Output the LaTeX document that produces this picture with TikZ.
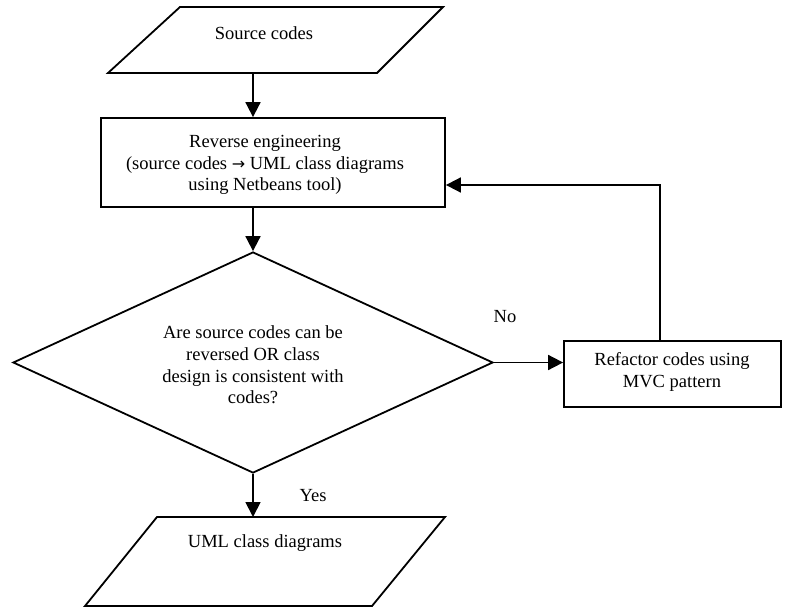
\documentclass[tikz,border=0pt]{standalone}
\usepackage{fontspec}
\setmainfont{Liberation Serif}
\newfontfamily\symfont{DejaVu Sans}
\usetikzlibrary{arrows.meta,shapes.geometric}
\begin{document}
\begin{tikzpicture}[x=1pt,y=-1pt,
  line width=1.8pt,
  every node/.style={font=\fontsize{18.5}{21.8}\selectfont},
  shapeline/.style={draw=black,line width=1.8pt,line join=miter},
  txt/.style={align=center,inner sep=0pt},
  arr/.style={-{Triangle[length=15pt,width=15pt]},line width=1.8pt}]
\useasboundingbox[fill=white] (0,0) rectangle (786,607);
% input parallelogram
\coordinate (s1) at (180,7);
\coordinate (s2) at (443,7);
\coordinate (s3) at (377,73);
\coordinate (s4) at (108,73);
\draw[shapeline] (s1) -- (s2) -- (s3) -- (s4) -- cycle;
\node[txt] (srctxt) at (264,33) {Source codes};
\coordinate (srcb) at (253,73);
% reverse engineering box
\node[shapeline,rectangle,minimum width=344pt,minimum height=89pt,inner sep=0pt] (rev) at (273,162.5) {};
\node[txt] (revtxt) at (265,165) {Reverse engineering\\(source codes {\symfont\fontsize{16}{21.8}\selectfont→} UML class diagrams\\using Netbeans tool)};
% decision diamond
\node[shapeline,diamond,minimum width=480pt,minimum height=221pt,inner sep=0pt] (dec) at (253,362.5) {};
\node[txt] (dectxt) at (253,365) {Are source codes can be\\reversed OR class\\design is consistent with\\codes?};
% refactor box
\node[shapeline,rectangle,minimum width=217pt,minimum height=66pt,inner sep=0pt] (ref) at (672.5,374) {};
\node[txt] (reftxt) at (672,372) {Refactor codes using\\MVC pattern};
% output parallelogram
\coordinate (u1) at (157,517);
\coordinate (u2) at (445,517);
\coordinate (u3) at (372,606);
\coordinate (u4) at (85,606);
\draw[shapeline] (u1) -- (u2) -- (u3) -- (u4) -- cycle;
\node[txt] (umltxt) at (265,543) {UML class diagrams};
\coordinate (umlt) at (253,517);
% connectors
\draw[arr] (srcb) -- (rev.north -| srcb);
\draw[arr] (rev.south -| dec.north) -- (dec.north);
\draw[arr] (dec.east) -- (dec.east -| ref.west);
\coordinate (fb) at (660,185);
\draw[arr] (ref.north -| fb) -- (fb) -- (rev.east |- fb);
\draw[arr] (dec.south) -- (umlt);
% labels
\node[txt] (no) at (505,317) {No};
\node[txt] (yes) at (313,496) {Yes};
\end{tikzpicture}
\end{document}
